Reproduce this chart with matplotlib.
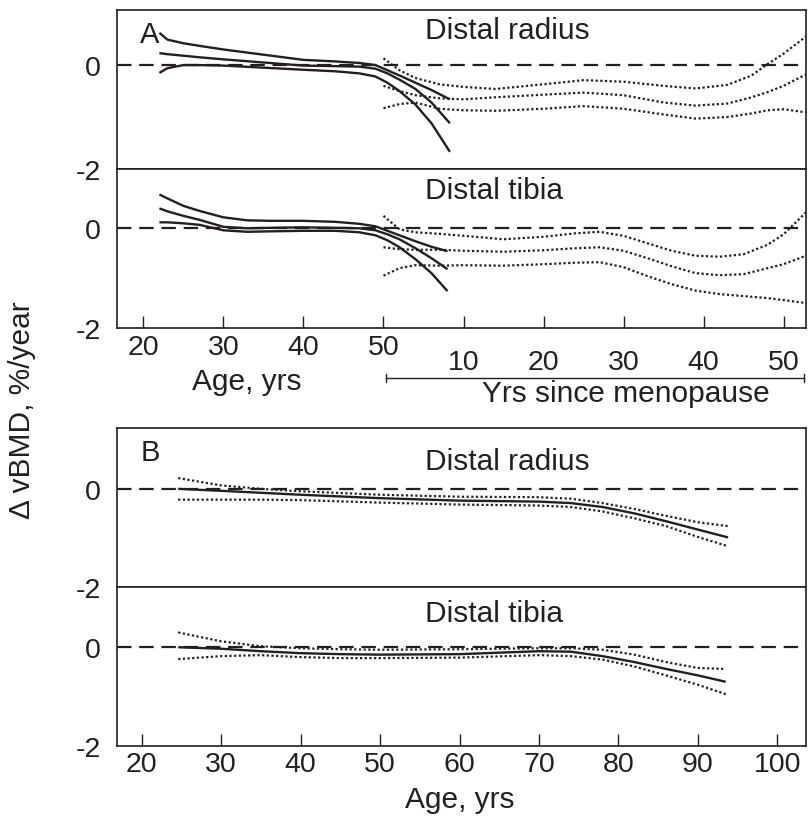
import matplotlib
matplotlib.use("Agg")
import matplotlib.pyplot as plt
from matplotlib.lines import Line2D

plt.rcParams['font.family'] = ['Liberation Sans', 'DejaVu Sans']

INK = '#231f20'

# ---------------- panel A : premenopausal fits (age) ----------------
a_rad_age = [22, 23, 25, 27, 30, 35, 40, 44, 47, 49, 50.5, 52, 54, 56, 58.3]
a_rad_hi = [0.62, 0.49, 0.42, 0.37, 0.30, 0.20, 0.10, 0.07, 0.04, 0.0, -0.10, -0.20, -0.34, -0.48, -0.66]
a_rad_est = [0.23, 0.21, 0.18, 0.15, 0.11, 0.05, -0.01, -0.02, -0.03, -0.07, -0.16, -0.28, -0.46, -0.72, -1.12]
a_rad_lo = [-0.15, -0.06, 0.0, 0.0, -0.01, -0.05, -0.09, -0.12, -0.16, -0.22, -0.34, -0.50, -0.76, -1.12, -1.67]

a_tib_age = [22, 23, 25, 27, 30, 33, 36, 40, 44, 47, 49, 50.5, 52, 54, 56, 58]
a_tib_hi = [0.68, 0.60, 0.45, 0.35, 0.22, 0.16, 0.15, 0.15, 0.13, 0.09, 0.04, -0.05, -0.14, -0.26, -0.37, -0.46]
a_tib_est = [0.40, 0.34, 0.25, 0.17, 0.03, 0.0, 0.01, 0.02, 0.01, 0.0, -0.04, -0.12, -0.22, -0.40, -0.60, -0.82]
a_tib_lo = [0.12, 0.12, 0.10, 0.07, -0.04, -0.07, -0.06, -0.05, -0.05, -0.08, -0.14, -0.24, -0.38, -0.62, -0.90, -1.26]

# ---------------- panel A : postmenopausal fits (yrs since menopause) ----------------
a_rad_ysm = [0, 2, 4, 7, 10, 14, 20, 25, 30, 35, 39, 43, 46, 48, 50, 52.8]
a_rad_m_hi = [0.13, -0.10, -0.25, -0.37, -0.42, -0.46, -0.37, -0.29, -0.32, -0.40, -0.45, -0.38, -0.20, 0.02, 0.22, 0.55]
a_rad_m_est = [-0.40, -0.50, -0.58, -0.64, -0.66, -0.62, -0.57, -0.53, -0.58, -0.72, -0.78, -0.74, -0.62, -0.52, -0.40, -0.18]
a_rad_m_lo = [-0.83, -0.75, -0.72, -0.84, -0.87, -0.88, -0.84, -0.79, -0.84, -0.95, -1.03, -1.00, -0.93, -0.87, -0.85, -0.91]

a_tib_ysm = [0, 2, 4, 7, 10, 15, 20, 24, 27, 30, 33, 36, 39, 42, 45, 48, 50, 52.8]
a_tib_m_hi = [0.25, -0.02, -0.08, -0.11, -0.15, -0.22, -0.17, -0.10, -0.07, -0.15, -0.30, -0.45, -0.55, -0.57, -0.52, -0.33, -0.12, 0.32]
a_tib_m_est = [-0.38, -0.42, -0.43, -0.43, -0.45, -0.47, -0.44, -0.40, -0.38, -0.45, -0.60, -0.76, -0.90, -0.94, -0.92, -0.80, -0.72, -0.55]
a_tib_m_lo = [-0.95, -0.80, -0.74, -0.75, -0.74, -0.75, -0.72, -0.69, -0.68, -0.78, -0.96, -1.12, -1.25, -1.32, -1.36, -1.40, -1.44, -1.50]

# ---------------- panel B : whole cohort (age) ----------------
b_rad_age = [24.6, 30, 35, 40, 50, 60, 70, 74, 78, 82, 86, 90, 93.8]
b_rad_est = [0.0, -0.04, -0.08, -0.12, -0.19, -0.24, -0.26, -0.29, -0.37, -0.50, -0.66, -0.83, -0.99]
b_rad_hi = [0.22, 0.07, 0.0, -0.05, -0.12, -0.16, -0.17, -0.20, -0.29, -0.41, -0.55, -0.68, -0.76]
b_rad_lo = [-0.22, -0.22, -0.22, -0.23, -0.28, -0.32, -0.34, -0.37, -0.46, -0.60, -0.76, -0.98, -1.17]

b_tib_age = [24.6, 30, 35, 40, 45, 50, 60, 70, 74, 78, 82, 86, 90, 93.5]
b_tib_est = [0.0, -0.03, -0.08, -0.12, -0.14, -0.15, -0.14, -0.08, -0.09, -0.18, -0.30, -0.44, -0.57, -0.70]
b_tib_hi = [0.30, 0.12, 0.02, -0.02, -0.04, -0.05, -0.04, -0.02, -0.02, -0.05, -0.15, -0.30, -0.42, -0.44]
b_tib_lo = [-0.24, -0.18, -0.16, -0.20, -0.22, -0.22, -0.21, -0.16, -0.18, -0.25, -0.39, -0.57, -0.76, -0.95]

age_ticks = [20, 30, 40, 50]
meno_ticks = [10, 20, 30, 40, 50]
b_ticks = [20, 30, 40, 50, 60, 70, 80, 90, 100]
MENOPAUSE_AGE = 50

W, H = 808, 820
fig = plt.figure(figsize=(W / 100, H / 100), dpi=100)


def box(left, top, right, bottom):
    return [left / W, 1 - bottom / H, (right - left) / W, (bottom - top) / H]


def style(ax, xlim, ylim, bottom):
    ax.set_xlim(xlim)
    ax.set_ylim(ylim)
    ax.set_yticks([0, -2], labels=['0', '-2'])
    ax.tick_params(axis='y', length=0, pad=11.5, labelsize=20.5, labelcolor=INK)
    for s in ax.spines.values():
        s.set_linewidth(1.2)
        s.set_color(INK)
    ax.axhline(0, color=INK, lw=1.6, ls=(0, (6.5, 3.5)), zorder=1)
    if not bottom:
        ax.set_xticks([])


def solid(ax, x, *ys):
    for y in ys:
        ax.plot(x, y, color=INK, lw=1.7, solid_capstyle='butt', zorder=3)


def dotted(ax, x, *ys):
    for y in ys:
        ax.plot(x, y, color=INK, lw=1.6, ls=(0, (1, 1.1)), zorder=2)


A_XLIM = (16.7, 102.8)
B_XLIM = (16.9, 103.6)

ax1 = fig.add_axes(box(117, 11, 806, 170))
ax2 = fig.add_axes(box(117, 170, 806, 329))
ax3 = fig.add_axes(box(117, 429, 806, 588))
ax4 = fig.add_axes(box(117, 588, 806, 747))

style(ax1, A_XLIM, (-2, 1.06), False)
style(ax2, A_XLIM, (-2, 1.19), True)
style(ax3, B_XLIM, (-2, 1.24), False)
style(ax4, B_XLIM, (-2, 1.22), True)

# panel A curves
solid(ax1, a_rad_age, a_rad_hi, a_rad_est, a_rad_lo)
dotted(ax1, [MENOPAUSE_AGE + m for m in a_rad_ysm], a_rad_m_hi, a_rad_m_est, a_rad_m_lo)
solid(ax2, a_tib_age, a_tib_hi, a_tib_est, a_tib_lo)
dotted(ax2, [MENOPAUSE_AGE + m for m in a_tib_ysm], a_tib_m_hi, a_tib_m_est, a_tib_m_lo)

# panel B curves
solid(ax3, b_rad_age, b_rad_est)
dotted(ax3, b_rad_age, b_rad_hi, b_rad_lo)
solid(ax4, b_tib_age, b_tib_est)
dotted(ax4, b_tib_age, b_tib_hi, b_tib_lo)

# x ticks, panel A: age on the left, years since menopause on the right
ax2.set_xticks(age_ticks, labels=[str(t) for t in age_ticks])
ax2.set_xticks([MENOPAUSE_AGE + m for m in meno_ticks],
               labels=[str(m) for m in meno_ticks], minor=True)
ax2.tick_params(axis='x', which='both', direction='in', length=8.5, width=1.0,
                color=INK, labelsize=20.5, labelcolor=INK)
ax2.tick_params(axis='x', which='major', pad=4)
ax2.tick_params(axis='x', which='minor', pad=15)

ax4.set_xticks(b_ticks, labels=[str(t) for t in b_ticks])
ax4.tick_params(axis='x', direction='in', length=8.5, width=1.0, color=INK,
                labelsize=20.5, labelcolor=INK, pad=3.5)

# panel letters and site titles
ax1.text(0.034, 0.80, 'A', transform=ax1.transAxes, fontsize=21, color=INK)
ax3.text(0.035, 0.80, 'B', transform=ax3.transAxes, fontsize=21, color=INK)
ax1.text(0.447, 0.822, 'Distal radius', transform=ax1.transAxes, fontsize=21.5, color=INK)
ax2.text(0.447, 0.816, 'Distal tibia', transform=ax2.transAxes, fontsize=21.5, color=INK)
ax3.text(0.447, 0.744, 'Distal radius', transform=ax3.transAxes, fontsize=21.5, color=INK)
ax4.text(0.447, 0.786, 'Distal tibia', transform=ax4.transAxes, fontsize=21.5, color=INK)

# axis titles
fig.text(247 / W, 1 - 390 / H, 'Age, yrs', ha='center', va='baseline', fontsize=21.5, color=INK)
fig.text(626 / W, 1 - 402 / H, 'Yrs since menopause', ha='center', va='baseline',
         fontsize=21.5, color=INK)
fig.text(460 / W, 1 - 808 / H, 'Age, yrs', ha='center', va='baseline', fontsize=21.5, color=INK)
fig.text(22 / W, 1 - 410 / H, '\u0394 vBMD, %/year', rotation=90, ha='center', va='center',
         fontsize=21.5, color=INK)

# bracket under the menopause scale
yb = 1 - 379 / H
cap = 4 / H
fig.add_artist(Line2D([386 / W, 804 / W], [yb, yb], color=INK, lw=1.0))
fig.add_artist(Line2D([386 / W, 386 / W], [yb - cap, yb + cap], color=INK, lw=1.0))
fig.add_artist(Line2D([804 / W, 804 / W], [yb - cap, yb + cap], color=INK, lw=1.0))

fig.savefig('out.png', dpi=100)
